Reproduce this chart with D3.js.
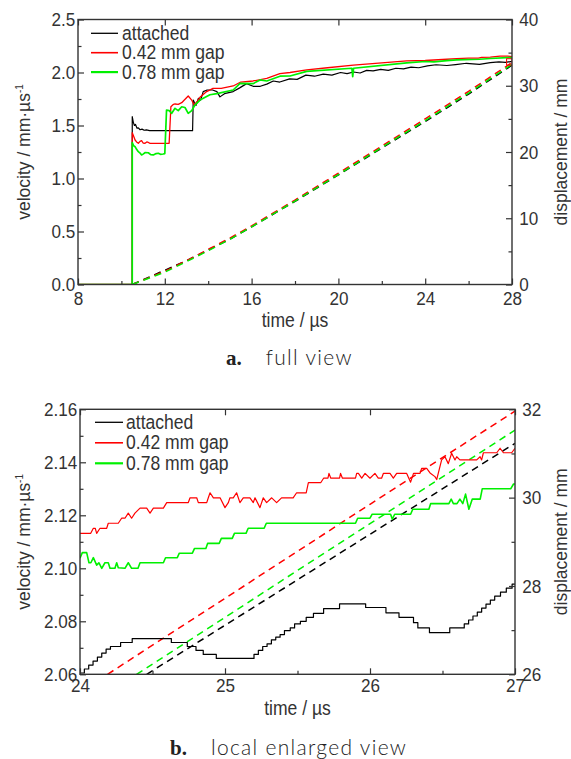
<!DOCTYPE html>
<html>
<head>
<meta charset="utf-8">
<script src="https://cdn.jsdelivr.net/npm/d3@7"></script>
<style>
  body { margin: 0; background: #fff; }
  svg { display: block; }
  text { font-family: 'Liberation Sans', Arial, sans-serif; fill: #333; }
</style>
</head>
<body>
<div id="chart"></div>
<script>
// series names / colours
const seriesNames = ['attached', '0.42 mm gap', '0.78 mm gap'];
const seriesColors = ['#000000', '#ff0000', '#00f000'];

// ---- full view (a): velocity [t µs, mm/µs]
const attachedVel = [[8,0],[10.5,0],[10.5,1.583],[10.55,1.53],[10.6,1.50],[10.65,1.51],[10.72,1.475],[10.78,1.478],
  [10.86,1.46],[10.95,1.466],[11.05,1.455],[11.15,1.459],[11.3,1.451],[13.28,1.451],[13.31,1.74],[13.36,1.72],
  [13.44,1.69],[13.55,1.757],[13.65,1.74],[13.77,1.82],[13.95,1.835],[14.2,1.835],[14.4,1.82],[14.54,1.77],
  [14.75,1.80],[15.15,1.82],[15.45,1.855],[15.77,1.895],[16.07,1.87],[16.4,1.87],[16.7,1.89],[17.0,1.92],
  [17.3,1.91],[17.75,1.94],[18.1,1.935],[18.5,1.975],[18.9,1.965],[19.3,1.985],[19.7,1.975],[20.1,2.0],
  [20.4,1.99],[20.7,2.005],[21.0,1.995],[21.3,2.02],[21.6,2.015],[21.95,2.03],[22.3,2.02],[22.65,2.04],
  [23.0,2.035],[23.35,2.05],[23.7,2.045],[24.1,2.062],[24.5,2.073],[25.0,2.066],[25.4,2.075],[25.9,2.087],
  [26.5,2.076],[27.0,2.094],[27.4,2.10],[27.7,2.095],[28,2.105]];
const gap42Vel = [[8,0],[10.5,0],[10.5,1.432],[10.56,1.40],[10.63,1.363],[10.7,1.345],[10.78,1.332],[10.86,1.35],
  [10.93,1.357],[11.0,1.335],[11.09,1.332],[11.17,1.345],[11.24,1.34],[11.32,1.332],[12.2,1.332],[12.28,1.677],
  [12.4,1.70],[12.47,1.703],[12.62,1.70],[12.78,1.715],[12.9,1.74],[13.08,1.778],[13.24,1.74],[13.35,1.693],
  [13.5,1.73],[13.62,1.766],[13.93,1.82],[14.22,1.85],[14.6,1.85],[15.15,1.873],[15.5,1.91],[16.07,1.92],
  [16.7,1.945],[17.3,1.99],[17.77,2.0],[18.54,2.024],[19.5,2.045],[20.69,2.07],[22.0,2.09],[23.15,2.11],
  [24.0,2.113],[25.0,2.125],[25.45,2.13],[26.0,2.135],[26.45,2.135],[26.6,2.142],[27.0,2.145],[27.45,2.155],
  [27.8,2.155],[28,2.15]];
const gap78Vel = [[8,0],[10.5,0],[10.5,1.338],[10.56,1.31],[10.63,1.30],[10.7,1.275],[10.78,1.253],[10.86,1.24],
  [10.93,1.222],[11.0,1.23],[11.1,1.245],[11.24,1.243],[11.35,1.225],[11.47,1.222],[11.6,1.235],[11.7,1.238],
  [11.8,1.228],[11.93,1.231],[12.0,1.235],[12.08,1.646],[12.2,1.64],[12.32,1.615],[12.47,1.662],[12.62,1.64],
  [12.78,1.677],[12.93,1.67],[13.08,1.615],[13.24,1.64],[13.39,1.693],[13.62,1.74],[14.08,1.79],[14.4,1.80],
  [15.15,1.835],[15.47,1.898],[16.07,1.895],[16.39,1.93],[16.7,1.92],[17.31,1.965],[17.77,1.967],[18.54,2.01],
  [20.62,2.04],[20.66,1.96],[20.70,2.04],[23.15,2.09],[24.0,2.104],[24.4,2.10],[25.0,2.112],[25.45,2.12],
  [26.5,2.125],[27.0,2.132],[27.76,2.14],[28,2.14]];

// ---- full view (a): displacement [t µs, mm]
const attachedDisp = [[10.5,0],[11,0.73],[12,2.15],[13,3.6],[14,5.2],[15,6.85],[16,8.7],[18,12.55],[20,16.55],[22,20.6],[24,24.6],[26,28.75],[28,33.1]];
const gap42Disp = [[10.5,0],[11,0.67],[12,2.0],[13,3.6],[14,5.3],[15,7.0],[16,8.85],[18,12.75],[20,16.8],[22,20.9],[24,25.0],[26,29.15],[28,33.5]];
const gap78Disp = [[10.5,0],[11,0.62],[12,1.87],[13,3.45],[14,5.1],[15,6.85],[16,8.7],[18,12.6],[20,16.6],[22,20.7],[24,24.75],[26,28.9],[28,33.25]];

// marker box for the enlarged region in (a)
const zoomBoxT = [27.75, 28];
const zoomBoxV = [2.07, 2.13];

// ---- local enlarged view (b): velocity
const attachedFine = [[24.00,2.0605],[24.03,2.062],[24.06,2.0635],[24.09,2.065],[24.12,2.0665],[24.15,2.068],[24.18,2.0695],
  [24.21,2.0705],[24.28,2.072],[24.36,2.0735],[24.63,2.072],[24.74,2.0705],[24.80,2.069],[24.85,2.0675],[24.94,2.066],
  [25.20,2.0675],[25.23,2.069],[25.26,2.0705],[25.29,2.0715],[25.32,2.073],[25.35,2.074],[25.38,2.075],[25.41,2.0765],
  [25.45,2.0775],[25.48,2.079],[25.52,2.080],[25.56,2.0815],[25.61,2.083],[25.68,2.0848],[25.79,2.0866],[25.97,2.0852],
  [26.11,2.0832],[26.20,2.0815],[26.30,2.0795],[26.33,2.0775],[26.41,2.0757],[26.55,2.0775],[26.65,2.079],[26.68,2.0805],
  [26.71,2.082],[26.74,2.0835],[26.77,2.085],[26.80,2.0865],[26.83,2.088],[26.86,2.0895],[26.90,2.091],[26.94,2.0925],
  [26.98,2.094],[27.0,2.094]];
const gap42Fine = [[24.00,2.1132],[24.074,2.1132],[24.092,2.1151],[24.105,2.1151],[24.115,2.1132],[24.138,2.1151],[24.184,2.1151],
  [24.195,2.117],[24.264,2.117],[24.287,2.1189],[24.31,2.1189],[24.333,2.1208],[24.356,2.1189],[24.379,2.1208],[24.414,2.1227],
  [24.46,2.1227],[24.483,2.1208],[24.506,2.1227],[24.575,2.1227],[24.598,2.1248],[24.747,2.1248],[24.759,2.1266],[24.805,2.1266],
  [24.816,2.1248],[24.874,2.1248],[24.885,2.1266],[24.897,2.1285],[24.92,2.1266],[24.966,2.1266],[25.0,2.1229],[25.023,2.1248],
  [25.034,2.1266],[25.057,2.1266],[25.08,2.1285],[25.103,2.1248],[25.126,2.1266],[25.172,2.1266],[25.195,2.1248],[25.207,2.1266],
  [25.241,2.1229],[25.264,2.1266],[25.287,2.1248],[25.322,2.1266],[25.356,2.1248],[25.39,2.1266],[25.47,2.1266],[25.494,2.1285],
  [25.56,2.1285],[25.575,2.1323],[25.66,2.1323],[25.68,2.134],[25.71,2.134],[25.717,2.1358],[25.73,2.134],[25.79,2.134],
  [25.797,2.1358],[25.81,2.134],[25.90,2.134],[25.908,2.1358],[25.92,2.1358],[25.943,2.134],[25.966,2.1358],[26.0,2.134],
  [26.034,2.1358],[26.057,2.134],[26.08,2.134],[26.092,2.1358],[26.138,2.1358],[26.161,2.134],[26.184,2.1358],[26.253,2.1358],
  [26.28,2.1325],[26.30,2.1358],[26.345,2.1358],[26.356,2.1377],[26.391,2.1377],[26.414,2.136],[26.448,2.1346],[26.46,2.1335],
  [26.494,2.1409],[26.517,2.1421],[26.54,2.1395],[26.563,2.1434],[26.586,2.1409],[26.598,2.1421],[26.62,2.1409],[26.736,2.1409],
  [26.759,2.1421],[26.77,2.1409],[26.782,2.1436],[26.874,2.1436],[26.897,2.1453],[26.92,2.1436],[26.977,2.1436],[27.0,2.1453]];
const gap78Fine = [[24.0,2.1038],[24.016,2.1059],[24.046,2.1059],[24.062,2.1021],[24.075,2.1021],[24.092,2.104],[24.115,2.1012],
  [24.13,2.1021],[24.15,2.1],[24.172,2.1021],[24.195,2.1021],[24.207,2.1],[24.241,2.1],[24.253,2.1021],[24.264,2.1002],[24.31,2.1],
  [24.333,2.1021],[24.356,2.1],[24.40,2.1],[24.414,2.1021],[24.575,2.1021],[24.59,2.104],[24.671,2.104],[24.685,2.1057],
  [24.775,2.1057],[24.79,2.1075],[24.868,2.1075],[24.88,2.1094],[24.96,2.1094],[24.975,2.1113],[25.05,2.1113],[25.065,2.1132],
  [25.145,2.1132],[25.16,2.1151],[25.27,2.1151],[25.285,2.117],[25.90,2.117],[25.915,2.1189],[26.0,2.1189],[26.015,2.1204],
  [26.142,2.1204],[26.154,2.1185],[26.17,2.1204],[26.28,2.1204],[26.295,2.1223],[26.406,2.1223],[26.418,2.1244],[26.544,2.1244],
  [26.56,2.1261],[26.575,2.1244],[26.6,2.1244],[26.62,2.1261],[26.64,2.1244],[26.659,2.128],[26.682,2.1223],[26.705,2.1261],
  [26.76,2.1261],[26.774,2.13],[26.97,2.13],[26.99,2.1318],[27.0,2.1318]];

// ---- local enlarged view (b): displacement
const attachedDispFine = [[24.46,26],[25,27.11],[26,29.17],[27,31.23]];
const gap42DispFine = [[24.19,26],[25,27.72],[26,29.85],[27,31.96]];
const gap78DispFine = [[24.39,26],[25,27.29],[26,29.41],[27,31.53]];

// ---- ticks
const xTicksA = [8, 12, 16, 20, 24, 28], xMinorA = [10, 14, 18, 22, 26];
const vTicksA = [0, 0.5, 1.0, 1.5, 2.0, 2.5], vMinorA = [0.25, 0.75, 1.25, 1.75, 2.25];
const dTicksA = [0, 10, 20, 30, 40], dMinorA = [5, 15, 25, 35];
const xTicksB = [24, 25, 26, 27], xMinorB = [24.5, 25.5, 26.5];
const vTicksB = [2.06, 2.08, 2.10, 2.12, 2.14, 2.16], vMinorB = [2.07, 2.09, 2.11, 2.13, 2.15];
const dTicksB = [26, 28, 30, 32], dMinorB = [27, 29, 31];

const svg = d3.select('#chart').append('svg')
  .attr('width', 571)
  .attr('height', 759);

const SX = 'scale(0.9,1)';   // the tick font reads a bit condensed

function drawPanel(p) {
  const g = svg.append('g');
  const x = d3.scaleLinear().domain(p.xDomain).range([p.left, p.right]);
  const yV = d3.scaleLinear().domain(p.vDomain).range([p.bottom, p.top]);
  const yD = d3.scaleLinear().domain(p.dDomain).range([p.bottom, p.top]);

  g.append('clipPath').attr('id', 'clip-' + p.id)
    .append('rect')
      .attr('x', p.left).attr('y', p.top)
      .attr('width', p.right - p.left).attr('height', p.bottom - p.top);

  const plot = g.append('g').attr('clip-path', `url(#clip-${p.id})`);

  // dashed displacement curves
  p.disp.forEach((d, i) => {
    plot.append('path')
      .datum(d)
      .attr('fill', 'none')
      .attr('stroke', seriesColors[p.dispOrder[i]])
      .attr('stroke-width', 1.5)
      .attr('stroke-dasharray', '7,5')
      .attr('d', d3.line().x(e => x(e[0])).y(e => yD(e[1])));
  });

  // velocity curves
  p.vel.forEach((d, i) => {
    plot.append('path')
      .datum(d)
      .attr('fill', 'none')
      .attr('stroke', seriesColors[i])
      .attr('stroke-width', p.velWidth[i])
      .attr('stroke-linejoin', 'round')
      .attr('d', d3.line().curve(p.curves[i]).x(e => x(e[0])).y(e => yV(e[1])));
  });

  if (p.box) {
    plot.append('rect')
      .attr('x', x(p.box.t[0])).attr('y', yV(p.box.v[1]))
      .attr('width', x(p.box.t[1]) - x(p.box.t[0]))
      .attr('height', yV(p.box.v[0]) - yV(p.box.v[1]))
      .attr('fill', 'none').attr('stroke', '#ff0000').attr('stroke-width', 1);
  }

  // axes: ticks pointing inward
  const style = sel => {
    sel.select('.domain').remove();
    sel.selectAll('line').attr('stroke', '#333').attr('stroke-width', 1.2);
    sel.selectAll('text').attr('font-size', 19).attr('fill', '#333')
      .attr('font-family', "'Liberation Sans', Arial, sans-serif")
      .attr('transform', SX);
  };

  g.append('g').attr('transform', `translate(0,${p.bottom})`)
    .call(d3.axisBottom(x).tickValues(p.xTicks).tickSize(-6).tickPadding(p.xPad).tickFormat(d3.format('d')))
    .call(style);
  g.append('g').attr('transform', `translate(0,${p.bottom})`)
    .call(d3.axisBottom(x).tickValues(p.xMinor).tickSize(-3.5).tickFormat(''))
    .call(style);
  g.append('g').attr('transform', `translate(0,${p.top})`)
    .call(d3.axisTop(x).tickValues(p.xTicks).tickSize(-6).tickFormat(''))
    .call(style);

  g.append('g').attr('transform', `translate(${p.left},0)`)
    .call(d3.axisLeft(yV).tickValues(p.vTicks).tickSize(-6).tickPadding(3).tickFormat(d3.format(p.vFmt)))
    .call(style);
  g.append('g').attr('transform', `translate(${p.left},0)`)
    .call(d3.axisLeft(yV).tickValues(p.vMinor).tickSize(-3.5).tickFormat(''))
    .call(style);

  g.append('g').attr('transform', `translate(${p.right},0)`)
    .call(d3.axisRight(yD).tickValues(p.dTicks).tickSize(-6).tickPadding(8).tickFormat(d3.format('d')))
    .call(style);
  g.append('g').attr('transform', `translate(${p.right},0)`)
    .call(d3.axisRight(yD).tickValues(p.dMinor).tickSize(-3.5).tickFormat(''))
    .call(style);

  // frame
  g.append('rect')
    .attr('x', p.left).attr('y', p.top)
    .attr('width', p.right - p.left).attr('height', p.bottom - p.top)
    .attr('fill', 'none').attr('stroke', '#333').attr('stroke-width', 1.4);

  // axis titles
  const midY = (p.top + p.bottom) / 2;
  g.append('text')
    .attr('transform', `translate(${(p.left + p.right) / 2},${p.titleY}) ${SX}`)
    .attr('text-anchor', 'middle').attr('font-size', 19.5)
    .text('time / \u00b5s');

  const vt = g.append('text')
    .attr('transform', `translate(29.5,${midY}) rotate(-90)`)
    .attr('text-anchor', 'middle').attr('font-size', 17.5);
  vt.append('tspan').text('velocity / mm\u00b7\u00b5s');
  vt.append('tspan').attr('font-size', 10).attr('dy', -7).text('-1');

  g.append('text')
    .attr('transform', `translate(567,${midY}) rotate(-90)`)
    .attr('text-anchor', 'middle').attr('font-size', 17.5)
    .text('displacement / mm');

  // legend
  seriesNames.forEach((name, i) => {
    const ly = p.legend.y + i * p.legend.dy;
    g.append('line')
      .attr('x1', p.legend.x1).attr('x2', p.legend.x2)
      .attr('y1', ly).attr('y2', ly)
      .attr('stroke', seriesColors[i]).attr('stroke-width', p.legendWidth[i]);
    g.append('text')
      .attr('transform', `translate(${p.legend.tx},${ly + 6.5}) ${SX}`)
      .attr('font-size', 19.5)
      .text(name);
  });

  // caption
  const cap = g.append('text')
    .attr('x', p.caption.x).attr('y', p.caption.y)
    .attr('font-size', 21);
  cap.append('tspan')
    .attr('font-family', "'Liberation Serif', 'DejaVu Serif', serif")
    .attr('font-weight', 'bold').attr('fill', '#222')
    .text(p.caption.tag);
  cap.append('tspan')
    .attr('dx', 24)
    .attr('font-family', "Lato, 'Open Sans', sans-serif")
    .attr('font-weight', 300)
    .attr('letter-spacing', 1.3).attr('fill', '#222')
    .text(p.caption.text);
}

drawPanel({
  id: 'a',
  left: 78, right: 512, top: 19.5, bottom: 284.5,
  xDomain: [8, 28], vDomain: [0, 2.5], dDomain: [0, 40],
  xTicks: xTicksA, xMinor: xMinorA, vTicks: vTicksA, vMinor: vMinorA, dTicks: dTicksA, dMinor: dMinorA,
  vFmt: '.1f', xPad: 7, titleY: 327,
  vel: [attachedVel, gap42Vel, gap78Vel],
  curves: [d3.curveLinear, d3.curveLinear, d3.curveLinear],
  velWidth: [1.2, 1.3, 1.7],
  disp: [attachedDisp, gap42Disp, gap78Disp], dispOrder: [0, 1, 2],
  box: { t: zoomBoxT, v: zoomBoxV },
  legend: { x1: 91, x2: 118, tx: 122, y: 33.3, dy: 19.4 },
  legendWidth: [1.3, 1.6, 2.2],
  caption: { x: 226, y: 365, tag: 'a.', text: 'full view' }
});

drawPanel({
  id: 'b',
  left: 80, right: 515, top: 409.3, bottom: 674.3,
  xDomain: [24, 27], vDomain: [2.06, 2.16], dDomain: [26, 32],
  xTicks: xTicksB, xMinor: xMinorB, vTicks: vTicksB, vMinor: vMinorB, dTicks: dTicksB, dMinor: dMinorB,
  vFmt: '.2f', xPad: 4, titleY: 715,
  vel: [attachedFine, gap42Fine, gap78Fine],
  curves: [d3.curveStepAfter, d3.curveLinear, d3.curveLinear],
  velWidth: [1.2, 1.2, 1.6],
  disp: [gap42DispFine, gap78DispFine, attachedDispFine], dispOrder: [1, 2, 0],
  box: null,
  legend: { x1: 95, x2: 123, tx: 126, y: 422.3, dy: 20.5 },
  legendWidth: [1.3, 1.6, 2.2],
  caption: { x: 170, y: 755, tag: 'b.', text: 'local enlarged view' }
});
</script>
</body>
</html>
